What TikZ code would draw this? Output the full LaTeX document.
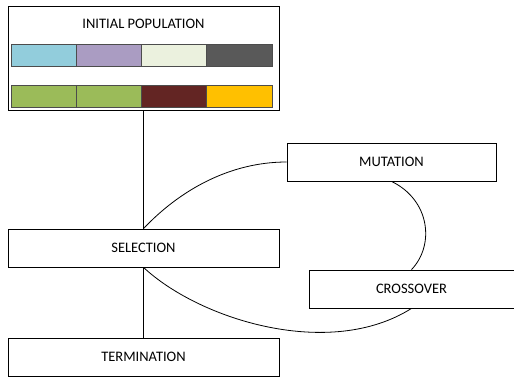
\documentclass[tikz,border=0pt]{standalone}
\usepackage{fontspec}
\setmainfont{Carlito}
\usepackage{tikz}
\usetikzlibrary{calc}
\tikzset{stage/.style={draw=black, line width=0.8pt, minimum height=38pt,
    inner sep=0pt, font=\fontsize{14.5}{16}\selectfont}}
\tikzset{cell/.style={draw=black!70, line width=0.8pt}}
\tikzset{link/.style={draw=black, line width=0.8pt}}
\definecolor{cblue}{HTML}{92CDDC}
\definecolor{clav}{HTML}{AA9CC2}
\definecolor{cpale}{HTML}{EBF1DE}
\definecolor{cdark}{HTML}{595959}
\definecolor{cgreen}{HTML}{9BBB59}
\definecolor{cred}{HTML}{632523}
\definecolor{cgold}{HTML}{FFC000}

\begin{document}
\begin{tikzpicture}[x=1pt, y=-1pt]
        \useasboundingbox (0,0) rectangle (514,378);

        \node[stage, minimum width=271pt, minimum height=104pt] (pop) at (143.5,58) {};
        \node[font=\fontsize{14.5}{16}\selectfont] (poptxt) at (143.5,24) {INITIAL POPULATION};
        \foreach \c [count=\i] in {cblue, clav, cpale, cdark}
            \draw[cell, fill=\c] ({11+(\i-1)*65.25},44) rectangle ({11+\i*65.25},66);
        \foreach \c [count=\i] in {cgreen, cgreen, cred, cgold}
            \draw[cell, fill=\c] ({11+(\i-1)*65.25},85) rectangle ({11+\i*65.25},107);

        \node[stage, minimum width=209pt] (mut) at (391.5,162) {MUTATION};
        \node[stage, minimum width=271pt] (sel) at (143.5,248) {SELECTION};
        \node[stage, minimum width=205pt] (cro) at (411.5,289) {CROSSOVER};
        \node[stage, minimum width=271pt] (ter) at (143.5,357) {TERMINATION};

        \draw[link] (pop) -- (sel);
        \draw[link] (sel) -- (ter);
        \draw[link] (sel.north) .. controls (180,190) and (230,162) .. (mut.west);
        \draw[link] (mut.south) .. controls (430,200) and (435,245) .. (cro.north);
        \draw[link] (sel.south) .. controls (200,320) and (330,360) .. (cro.south);
	\end{tikzpicture}
\end{document}
